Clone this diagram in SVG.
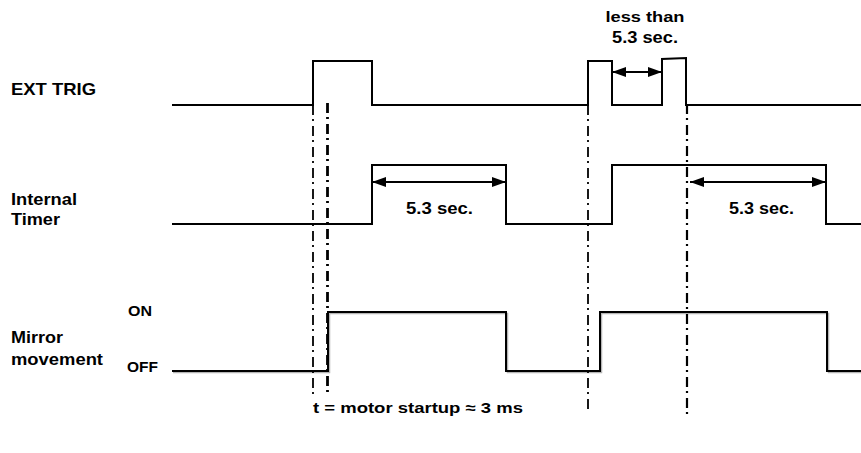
<svg xmlns="http://www.w3.org/2000/svg" width="861" height="453" viewBox="0 0 861 453">
<style>
.sig{fill:none;stroke:#000;stroke-width:2;stroke-linejoin:miter}
.shadow{fill:none;stroke:#b5b5b5;stroke-width:1.5}
.lbl{font-family:"Liberation Sans",Arial,sans-serif;font-weight:bold;fill:#000}
.dd{fill:none;stroke:#000;stroke-dasharray:10 4 2 5}
.arr{fill:none;stroke:#000;stroke-width:2;marker-start:url(#ah);marker-end:url(#ah)}
</style>
<defs>
<marker id="ah" viewBox="0 0 14 10" refX="14" refY="5" markerWidth="14" markerHeight="10" markerUnits="userSpaceOnUse" orient="auto-start-reverse">
<path d="M0,0 L14,5 L0,10 Z" fill="#000"/>
</marker>
</defs>
<rect width="861" height="453" fill="#fff"/>
<g id="labels">
<text class="lbl" x="11" y="95" font-size="16.5" textLength="85" lengthAdjust="spacingAndGlyphs">EXT TRIG</text>
<text class="lbl" x="11" y="205" font-size="16.5" textLength="66" lengthAdjust="spacingAndGlyphs">Internal</text>
<text class="lbl" x="11" y="225" font-size="16.5" textLength="49" lengthAdjust="spacingAndGlyphs">Timer</text>
<text class="lbl" x="11" y="343" font-size="16.5" textLength="52" lengthAdjust="spacingAndGlyphs">Mirror</text>
<text class="lbl" x="11" y="365" font-size="16.5" textLength="92" lengthAdjust="spacingAndGlyphs">movement</text>
<text class="lbl" x="128" y="316" font-size="15" textLength="24" lengthAdjust="spacingAndGlyphs">ON</text>
<text class="lbl" x="127" y="372" font-size="15" textLength="31" lengthAdjust="spacingAndGlyphs">OFF</text>
</g>
<g id="ext-trig">
<path class="sig" d="M172,105 H313 V61 H372 V105 H588 V61 H612 V105 H662 V59 L686,58 V105 H861"/>
</g>
<g id="internal-timer">
<path class="sig" d="M172,224 H372 V165 H506 V224 H612 V165 H826 V224 H861"/>
</g>
<g id="mirror-movement">
<path class="shadow" d="M173,372.5 H329.5 V313.5 H507.5 V372.5 H601.5 V313.5 H828.5 V372.5 H861"/>
<path class="sig" d="M172,371 H328 V312 H506 V371 H600 V312 H827 V371 H861"/>
</g>
<g id="connectors">
<line class="dd" x1="313" y1="105" x2="313" y2="397" stroke-width="1.8"/>
<line class="dd" x1="327.5" y1="103" x2="327.5" y2="397" stroke-width="2.8"/>
<line class="dd" x1="588" y1="105" x2="588" y2="409" stroke-width="1.8"/>
<line class="dd" x1="687" y1="104" x2="687" y2="415" stroke-width="2.2"/>
<line class="arr" x1="612" y1="72" x2="662" y2="72"/>
<line class="arr" x1="372" y1="182" x2="506" y2="182"/>
<line class="arr" x1="690" y1="182" x2="826" y2="182"/>
</g>
<g id="annotations">
<text class="lbl" x="645" y="22" font-size="15" text-anchor="middle" textLength="79" lengthAdjust="spacingAndGlyphs">less than</text>
<text class="lbl" x="645" y="43" font-size="16" text-anchor="middle" textLength="66" lengthAdjust="spacingAndGlyphs">5.3 sec.</text>
<text class="lbl" x="406" y="214" font-size="16" textLength="67" lengthAdjust="spacingAndGlyphs">5.3 sec.</text>
<text class="lbl" x="729" y="214" font-size="16" textLength="65" lengthAdjust="spacingAndGlyphs">5.3 sec.</text>
<text class="lbl" x="313" y="413" font-size="15" textLength="210" lengthAdjust="spacingAndGlyphs">t = motor startup ≈ 3 ms</text>
</g>
</svg>
